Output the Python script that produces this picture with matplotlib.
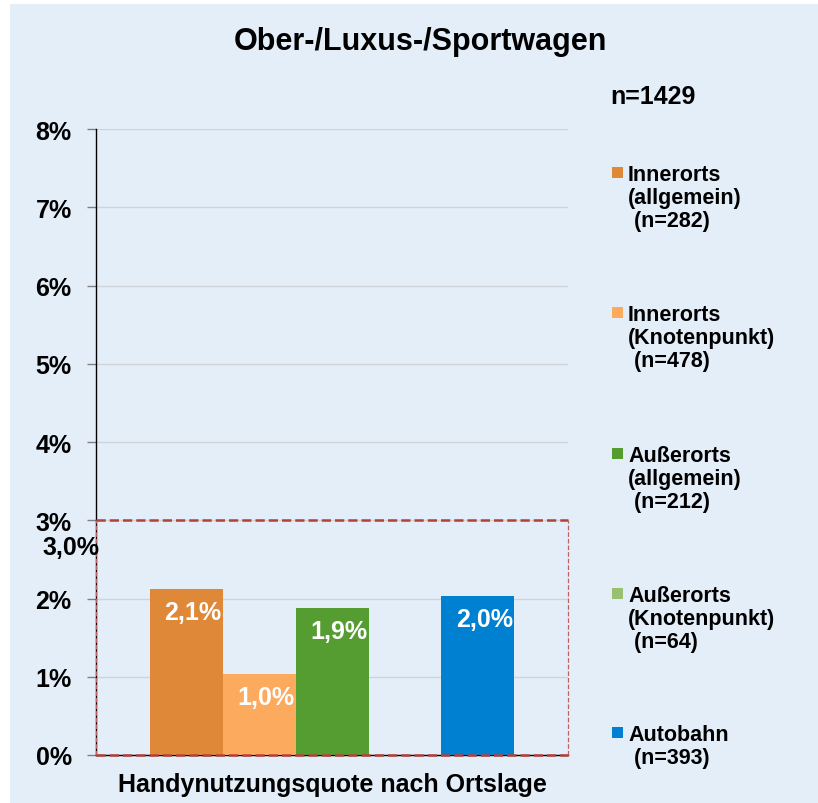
import matplotlib
matplotlib.use("Agg")
import matplotlib.pyplot as plt
from matplotlib.patches import Rectangle

plt.rcParams['font.family'] = ['Liberation Sans', 'DejaVu Sans']

categories = ["Innerorts\n(allgemein)\n (n=282)",
              "Innerorts\n(Knotenpunkt)\n (n=478)",
              "Außerorts\n(allgemein)\n (n=212)",
              "Außerorts\n(Knotenpunkt)\n (n=64)",
              "Autobahn\n (n=393)"]
values = [2.12, 1.04, 1.88, None, 2.03]
colors = ["#df8838", "#fcaa5e", "#559c31", "#98c070", "#0080d0"]
yticks = [0, 1, 2, 3, 4, 5, 6, 7, 8]
ytick_labels = ["0%", "1%", "2%", "3%", "4%", "5%", "6%", "7%", "8%"]
threshold = 3.0
title = "Ober-/Luxus-/Sportwagen"
total_n = "n=1429"
xlabel = "Handynutzungsquote nach Ortslage"

BG = "#e4eef9"
W, H = 818, 804
fig = plt.figure(figsize=(W / 100, H / 100), dpi=100)
fig.patch.set_facecolor("white")
fig.add_artist(Rectangle((10 / W, 0), 1 - 10 / W, 1 - 5 / H, transform=fig.transFigure,
                         facecolor=BG, edgecolor="none", zorder=-10))

ax = fig.add_axes([96 / W, 1 - 756 / H, 472 / W, 626 / H])
ax.set_facecolor(BG)

bw = 1.0
n = len(values)
xs = [i * bw for i in range(n)]
for x, v, c in zip(xs, values, colors):
    if v is None:
        continue
    ax.bar(x, v, width=bw, color=c, zorder=3, linewidth=0)
    lbl = f"{v:.1f}".replace(".", ",") + "%"
    ax.annotate(lbl, (x, v), xytext=(4.7, -16.5), textcoords="offset points",
                ha="center", va="center", color="white", fontsize=18, fontweight="bold", zorder=5)

span = 472 / 73.0
center = (xs[0] + xs[-1]) / 2
ax.set_xlim(center - span / 2, center + span / 2)
ax.set_ylim(0, 8)
ax.set_yticks(yticks)
ax.set_yticklabels(ytick_labels, fontsize=18, fontweight="bold")
ax.tick_params(axis="y", length=6.5, color="#808080", pad=11, width=1)
ax.set_xticks([])
ax.yaxis.grid(True, color="#d0d4d8", linewidth=1, zorder=0)
ax.set_axisbelow(True)
for s in ["top", "right"]:
    ax.spines[s].set_visible(False)
ax.spines["left"].set_color("black")
ax.spines["bottom"].set_color("black")
ax.spines["left"].set_linewidth(1.0)
ax.spines["bottom"].set_linewidth(1.0)

# threshold dashed box
xl, xr = ax.get_xlim()
ax.plot([xl, xr], [threshold, threshold], ls="--", color="#b5403a", lw=1.8, zorder=4, clip_on=False)
ax.plot([xl, xr], [0, 0], ls="--", color="#b5403a", lw=1.8, zorder=4, clip_on=False)
ax.plot([xl, xl], [0, threshold], ls="--", color="#c06060", lw=0.9, zorder=4, clip_on=False)
ax.plot([xr, xr], [0, threshold], ls="--", color="#c06060", lw=0.9, zorder=4, clip_on=False)
ax.text(0.008, 2.66, f"{threshold:.1f}".replace(".", ",") + "%", transform=ax.get_yaxis_transform(),
        ha="right", va="center", fontsize=18, fontweight="bold", zorder=6)

ax.set_xlabel(xlabel, fontsize=18, fontweight="bold", va="center")
ax.xaxis.set_label_coords(0.5, -(785 - 756) / 626)

fig.text(420 / W, 1 - 42 / H, title, ha="center", va="center", fontsize=22, fontweight="bold")
fig.text(610 / W, 1 - 97 / H, total_n, ha="left", va="center", fontsize=18, fontweight="bold")

cap_tops = [165, 305, 446, 586, 725]
for cat, c, yt in zip(categories, colors, cap_tops):
    fig.add_artist(Rectangle((612 / W, 1 - (yt + 14) / H), 11 / W, 11 / H,
                             transform=fig.transFigure, facecolor=c, edgecolor="none"))
    fig.text(628 / W, 1 - yt / H, cat, ha="left", va="top", fontsize=15.5,
             fontweight="bold", linespacing=1.13)

fig.savefig("out.png", dpi=100, facecolor=fig.get_facecolor())
